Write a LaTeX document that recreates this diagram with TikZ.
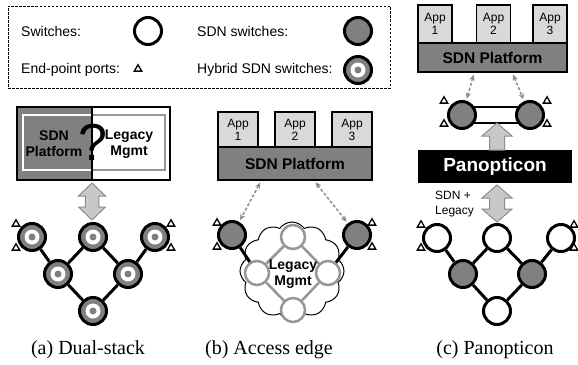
\documentclass[tikz,border=0pt]{standalone}
\usepackage{fontspec}
\setmainfont{Liberation Serif}
\setsansfont{Liberation Sans}
\usetikzlibrary{shapes.geometric,shapes.symbols,arrows.meta,calc}
\definecolor{sdngray}{RGB}{128,128,128}
\definecolor{appgray}{RGB}{217,217,217}
\definecolor{arrgray}{RGB}{200,200,200}
\definecolor{arredge}{RGB}{140,140,140}
\definecolor{leggray}{RGB}{150,150,150}
\pgfdeclarelayer{bg}
\pgfsetlayers{bg,main}
\newcommand\fatdouble[4]{%
  \draw[fatarrow] (#1,#2) -- ++(#4,13) -- ++({-#4/2},0) -- ({#1+#4/2},{#3-13}) -- ++({#4/2},0)
    -- (#1,#3) -- ++({-#4},-13) -- ++({#4/2},0) -- ({#1-#4/2},{#2+13}) -- ++({-#4/2},0) -- cycle;}
\tikzset{
  sw/.style={circle, draw, line width=3pt, fill=white, minimum size=27pt, inner sep=0pt},
  sdn/.style={sw, fill=sdngray},
  hyb/.style={sdn, path picture={
      \fill[white] (path picture bounding box.center) circle (7.5pt);
      \fill[sdngray] (path picture bounding box.center) circle (3.5pt);}},
  port/.style={regular polygon, regular polygon sides=3, draw, line width=1.3pt,
      inner sep=0pt, minimum size=8.5pt, fill=white},
  link/.style={line width=3pt},
  legsw/.style={circle, draw=leggray, line width=2.5pt, fill=white, minimum size=24pt, inner sep=0pt},
  legl/.style={draw=leggray, line width=2.5pt},
  appbox/.style={draw, line width=1.5pt, fill=appgray, font=\sffamily\fontsize{12}{13}\selectfont,
      align=center, inner sep=0pt},
  platbox/.style={draw, line width=1.5pt, fill=sdngray, font=\sffamily\bfseries\fontsize{15.5}{16}\selectfont,
      inner sep=0pt},
  dasharrow/.style={draw=arredge, dash pattern=on 3pt off 2pt, line width=1.5pt,
      {Stealth[length=6pt,width=5.5pt]}-{Stealth[length=6pt,width=5.5pt]}, shorten <=2pt, shorten >=2pt},
  fatarrow/.style={draw=arredge, fill=arrgray, line width=1pt},
  legtext/.style={font=\sffamily\fontsize{14}{16}\selectfont, anchor=west, inner sep=0pt},
  boldtext/.style={font=\sffamily\bfseries\fontsize{14}{16}\selectfont, align=center, inner sep=0pt},
  caption/.style={font=\rmfamily\fontsize{20}{22}\selectfont, inner sep=0pt}
}
\begin{document}
\begin{tikzpicture}[x=1pt,y=-1pt]
\useasboundingbox (0,0) rectangle (578,364);

% ---------------- Legend ----------------
\node[draw, dash pattern=on 2.5pt off 1.5pt, line width=0.8pt, minimum width=382pt, minimum height=82pt, inner sep=0pt] (legend) at (199,47) {};
\node[legtext] (tsw) at (21,31) {Switches:};
\node[sw] (lsw) at (148,31) {};
\node[legtext] (tsdn) at (197,31) {SDN switches:};
\node[sdn] (lsdn) at (358,31) {};
\node[legtext] (tport) at (21,70) {End-point ports:};
\node[port] (lport) at (138,69) {};
\node[legtext] (thyb) at (197,70) {Hybrid SDN switches:};
\node[hyb] (lhyb) at (358,70) {};

% ---------------- (a) Dual-stack ----------------
\fill[sdngray] (17,107) rectangle (92,180);
\draw[white, line width=2pt] (92,115) -- (23,115) -- (23,170) -- (92,170);
\draw[leggray, line width=2pt] (92,115) -- (165,115) -- (165,170) -- (92,170);
\node[boldtext] (sdnplat) at (54,144) {SDN\\Platform};
\node[boldtext] (legmgmt) at (129,144) {Legacy\\Mgmt};
\node[draw, line width=2pt, minimum width=153pt, minimum height=73pt, inner sep=0pt] (dual) at (93.5,143.5) {};
\draw[line width=2pt] (dual.north) ++(-1.5,0) coordinate (dtop) -- (dtop |- dual.south);
\node[font=\sffamily\fontsize{52}{52}\selectfont, inner sep=0pt] (qm) at (93,142) {?};
\fatdouble{92}{183}{220}{13.5}

\node[hyb] (a1) at (32,237) {};
\node[hyb] (a2) at (93,237) {};
\node[hyb] (a3) at (155,237) {};
\node[hyb] (a4) at (58,274) {};
\node[hyb] (a5) at (128,274) {};
\node[hyb] (a6) at (93,311) {};
\draw[link] (a1) -- (a4) (a4) -- (a2) (a2) -- (a5) (a5) -- (a3) (a4) -- (a6) (a5) -- (a6);
\node[port] (ap1) at (16,224) {};
\node[port] (ap2) at (16,248) {};
\node[port] (ap3) at (171,224) {};
\node[port] (ap4) at (171,248) {};

% ---------------- (b) Access edge ----------------
\node[appbox, minimum width=40pt, minimum height=35pt] (bapp1) at (238,129.5) {App\\1};
\node[appbox, minimum width=40pt, minimum height=35pt] (bapp2) at (295,129.5) {App\\2};
\node[appbox, minimum width=40pt, minimum height=35pt] (bapp3) at (352,129.5) {App\\3};
\node[platbox, minimum width=154pt, minimum height=33pt] (platB) at (295,163.5) {SDN Platform};

\node[cloud, cloud puffs=12, cloud puff arc=110, draw, line width=1pt, fill=white,
      minimum width=104pt, minimum height=98pt, inner sep=0pt] (cloud) at (292,271) {};
\node[legsw] (lt) at (293,237) {};
\node[legsw] (ll) at (257,273) {};
\node[legsw] (lr) at (328,273) {};
\node[legsw] (lb) at (293,310) {};
\draw[legl] (lt) -- (ll) (ll) -- (lb) (lb) -- (lr) (lr) -- (lt);
\node[sdn] (bL) at (232,235) {};
\node[sdn] (bR) at (357,235) {};
\draw[link] (bL) -- (ll) (bR) -- (lr);
\node[boldtext] (bleg) at (293,274) {Legacy\\Mgmt};
\node[port] (bp1) at (217,223) {};
\node[port] (bp2) at (217,247) {};
\node[port] (bp3) at (372,223) {};
\node[port] (bp4) at (372,247) {};
\draw[dasharrow] ($(platB.south west)+(44,0)$) -- (bL);
\draw[dasharrow] ($(platB.south west)+(97,0)$) -- (bR);

% ---------------- (c) Panopticon ----------------
\node[appbox, minimum width=34pt, minimum height=38pt] (capp1) at (435,24) {App\\1};
\node[appbox, minimum width=34pt, minimum height=38pt] (capp2) at (493.5,24) {App\\2};
\node[appbox, minimum width=34pt, minimum height=38pt] (capp3) at (550,24) {App\\3};
\node[platbox, minimum width=149pt, minimum height=29pt] (platC) at (492.5,57.5) {SDN Platform};

\node[sdn] (cL) at (462,115) {};
\node[sdn] (cR) at (530,115) {};
\begin{pgfonlayer}{bg}
\draw[line width=2.5pt, fill=white] ($(cL)+(0,-8)$) rectangle ($(cR)+(0,8)$);
\end{pgfonlayer}
\node[port] (cp1) at (444,101) {};
\node[port] (cp2) at (444,124) {};
\node[port] (cp3) at (547,101) {};
\node[port] (cp4) at (547,124) {};
\draw[dasharrow] ($(platC.south west)+(57,0)$) -- (cL);
\draw[dasharrow] ($(platC.south west)+(95,0)$) -- (cR);

\node[fill=black, minimum width=154pt, minimum height=33pt, inner sep=0pt, text=white,
      font=\sffamily\bfseries\fontsize{19}{20}\selectfont] (pan) at (495,166.5) {Panopticon};
\draw[fatarrow] (497,123) -- (512,136) -- (504.5,136) -- (504.5,150) -- (489.5,150) -- (489.5,136) -- (482,136) -- cycle;
\fatdouble{497}{185}{222}{15}
\node[font=\sffamily\fontsize{12}{15}\selectfont, align=left, anchor=west, inner sep=0pt] (sdnleg) at (435,204) {SDN +\\Legacy};

\node[sw] (c1) at (437,238) {};
\node[sw] (c2) at (497,238) {};
\node[sw] (c3) at (561,238) {};
\node[sdn] (c4) at (463,274) {};
\node[sdn] (c5) at (532,274) {};
\node[sw] (c6) at (497,311) {};
\draw[link] (c1) -- (c4) (c4) -- (c2) (c2) -- (c5) (c5) -- (c3) (c4) -- (c6) (c5) -- (c6);
\node[port] (cq1) at (421,225) {};
\node[port] (cq2) at (421,248) {};
\node[port] (cq3) at (574,225) {};
\node[port] (cq4) at (574,248) {};

% ---------------- Captions ----------------
\node[caption] (capa) at (88,350) {(a) Dual-stack};
\node[caption] (capb) at (269,350) {(b) Access edge};
\node[caption] (capc) at (495,350) {(c) Panopticon};
\end{tikzpicture}
\end{document}
